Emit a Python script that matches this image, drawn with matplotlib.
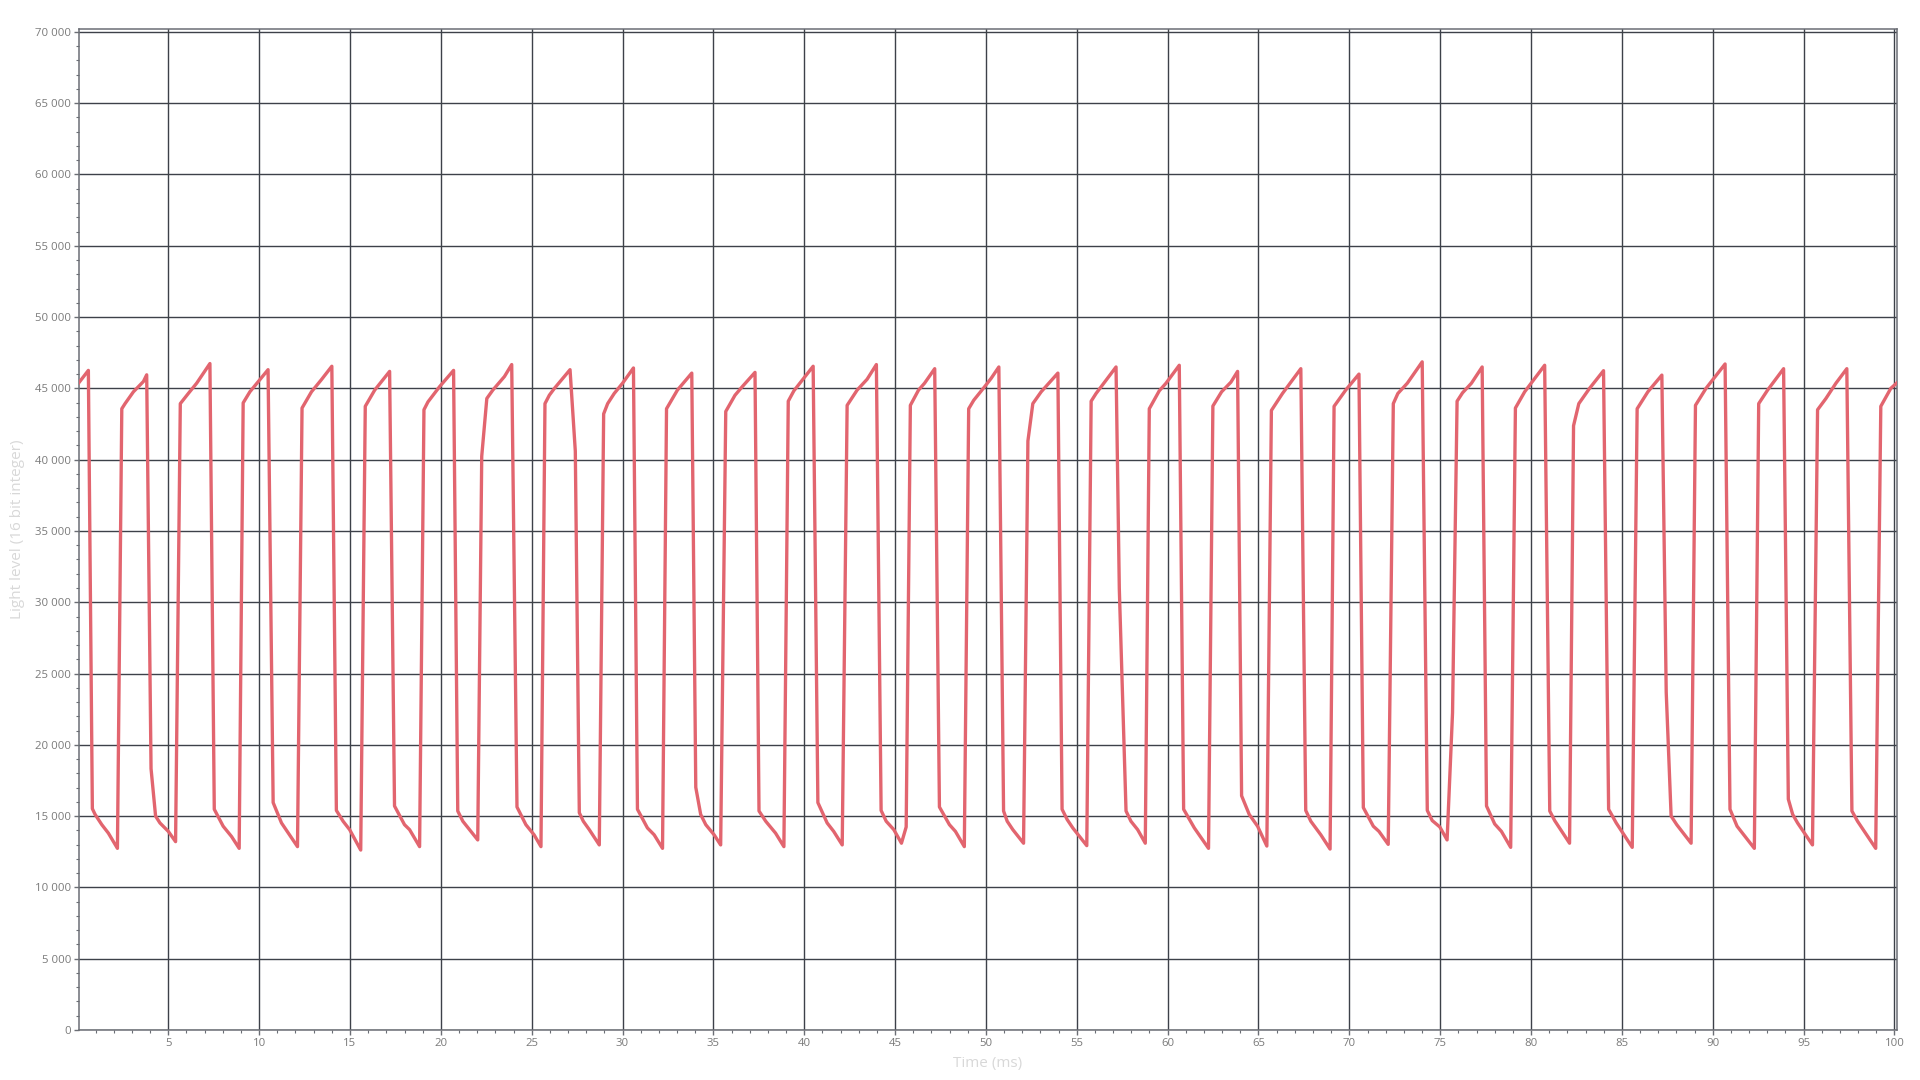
import matplotlib
matplotlib.use("Agg")
import matplotlib.pyplot as plt
from matplotlib.ticker import MultipleLocator, FuncFormatter

# light sensor trace
time_ms = [
    0.08, 0.60, 0.82, 0.97, 1.34, 1.70, 2.20, 2.44, 2.62, 3.08, 3.63, 3.81,
    4.05, 4.30, 4.54, 5.00, 5.40, 5.66, 6.10, 6.56, 7.29, 7.53, 8.02, 8.48,
    8.90, 9.12, 9.49, 10.49, 10.77, 11.23, 12.11, 12.36, 12.88, 13.42, 14.00,
    14.25, 14.62, 14.98, 15.59, 15.84, 16.36, 17.18, 17.45, 18.00, 18.28,
    18.83, 19.07, 19.29, 19.93, 20.70, 20.93, 21.21, 22.03, 22.25, 22.53,
    22.86, 23.50, 23.90, 24.19, 24.68, 25.13, 25.51, 25.73, 25.97, 26.25,
    27.11, 27.40, 27.62, 27.84, 28.17, 28.72, 28.96, 29.18, 29.54, 30.00,
    30.60, 30.82, 31.37, 31.74, 32.20, 32.42, 33.02, 33.81, 34.03, 34.30,
    34.58, 35.04, 35.40, 35.68, 36.19, 36.59, 37.29, 37.51, 37.88, 38.42,
    38.88, 39.12, 39.43, 40.49, 40.75, 41.26, 41.62, 42.09, 42.36, 42.91,
    43.46, 43.97, 44.23, 44.51, 44.93, 45.35, 45.61, 45.84, 46.29, 46.62,
    47.18, 47.44, 47.99, 48.32, 48.81, 49.05, 49.33, 49.93, 50.29, 50.71,
    50.97, 51.17, 51.48, 52.07, 52.31, 52.58, 53.04, 53.96, 54.19, 54.47,
    54.78, 55.55, 55.79, 56.06, 57.16, 57.34, 57.71, 57.98, 58.35, 58.77,
    58.99, 59.54, 59.91, 60.64, 60.88, 61.47, 62.25, 62.49, 62.97, 63.48,
    63.85, 64.07, 64.49, 64.95, 65.46, 65.71, 66.32, 67.33, 67.60, 67.88,
    68.43, 68.94, 69.16, 69.80, 70.53, 70.77, 71.32, 71.63, 72.14, 72.42,
    72.67, 73.19, 74.01, 74.29, 74.56, 74.98, 75.38, 75.68, 75.93, 76.23,
    76.72, 77.31, 77.55, 78.00, 78.37, 78.88, 79.14, 79.65, 80.75, 81.03,
    81.30, 82.12, 82.34, 82.63, 83.22, 83.99, 84.27, 84.69, 85.57, 85.84,
    86.43, 87.20, 87.44, 87.71, 88.02, 88.81, 89.05, 89.63, 90.68, 90.95,
    91.34, 92.29, 92.53, 93.02, 93.90, 94.16, 94.40, 94.67, 95.49, 95.77,
    96.23, 96.78, 97.38, 97.66, 97.97, 98.97, 99.25, 99.80, 100.15,
]
light_level = [
    45400, 46260, 15520, 15120, 14400, 13810, 12740, 43570, 43930, 44760, 45480, 45950,
    18330, 15000, 14520, 13930, 13210, 43930, 44640, 45360, 46740, 15480, 14290, 13570,
    12740, 43980, 44760, 46310, 15950, 14520, 12860, 43620, 44760, 45600, 46550,
    15400, 14640, 14050, 12620, 43740, 44880, 46190, 15710, 14400, 14050,
    12860, 43500, 44050, 45120, 46260, 15360, 14640, 13330, 40240, 44290,
    44880, 45830, 46670, 15640, 14400, 13690, 12860, 43930, 44520, 45000,
    46310, 40600, 15240, 14640, 14050, 12980, 43210, 43930, 44640, 45360,
    46430, 15480, 14170, 13690, 12740, 43570, 44880, 46070, 17020, 15120,
    14400, 13690, 12980, 43380, 44520, 45120, 46120, 15360, 14640, 13810,
    12860, 44100, 44830, 46550, 15950, 14520, 13930, 12980, 43810, 44880,
    45640, 46670, 15400, 14640, 14050, 13100, 14240, 43810, 44880, 45360,
    46380, 15640, 14400, 13930, 12860, 43570, 44170, 45120, 45710, 46500,
    15360, 14640, 14050, 13100, 41310, 43930, 44760, 46070, 15480, 14760,
    14170, 12930, 44100, 44640, 46500, 30950, 15360, 14640, 14050, 13100,
    43570, 44830, 45360, 46620, 15480, 14170, 12740, 43760, 44760, 45430,
    46190, 16430, 15120, 14290, 12900, 43450, 44640, 46380, 15400, 14640,
    13690, 12690, 43740, 44880, 46000, 15600, 14290, 13930, 13020, 43930,
    44640, 45360, 46860, 15400, 14690, 14240, 13330, 22260, 44100, 44690,
    45360, 46500, 15710, 14450, 13930, 12810, 43620, 44760, 46620, 15360,
    14690, 13100, 42380, 43930, 45000, 46240, 15480, 14520, 12810, 43570,
    44760, 45930, 23690, 15000, 14400, 13100, 43810, 45000, 46710, 15480,
    14290, 12740, 43930, 44880, 46380, 16190, 15120, 14520, 12980, 43500,
    44290, 45360, 46380, 15360, 14640, 12740, 43740, 45000, 45400,
]

x_label = "Time (ms)"
y_label = "Light level (16 bit integer)"

plt.rcParams['font.family'] = ['Open Sans', 'DejaVu Sans']

fig = plt.figure(figsize=(19.2, 10.8), dpi=100)
ax = fig.add_axes([0.0411, 0.0463, 0.947, 0.9268])

ax.plot(time_ms, light_level, color='#e2656f', linewidth=2.4,
        solid_joinstyle='round', zorder=3)

ax.set_xlim(0.08, 100.15)
ax.set_ylim(0, 70200)

ax.xaxis.set_major_locator(MultipleLocator(5))
ax.xaxis.set_minor_locator(MultipleLocator(1))
ax.yaxis.set_major_locator(MultipleLocator(5000))
ax.yaxis.set_minor_locator(MultipleLocator(1000))
ax.yaxis.set_major_formatter(FuncFormatter(lambda v, p: f"{int(v):,}".replace(",", " ")))

ax.grid(True, which='major', color='#3d4149', linewidth=1.0, zorder=1)
ax.set_axisbelow(True)

ax.tick_params(which='major', direction='out', length=3.5, width=1,
               color='#6b6e75', labelcolor='#7a7a7a', labelsize=8.2, pad=2)
ax.tick_params(which='minor', direction='out', length=2, width=0.8, color='#6b6e75')

for side in ['left', 'bottom', 'top', 'right']:
    ax.spines[side].set_color('#6b6e75')
    ax.spines[side].set_linewidth(1.1)

ax.set_xlabel(x_label, color='#d8d8d8', fontsize=11, va='center')
ax.set_ylabel(y_label, color='#d8d8d8', fontsize=11, va='center')
# label centres: x label at y=1063 px, y label at x=17 px
ax.xaxis.set_label_coords(0.5, -0.033)
ax.yaxis.set_label_coords(-0.034, 0.5)

fig.savefig("out.png", dpi=100)
